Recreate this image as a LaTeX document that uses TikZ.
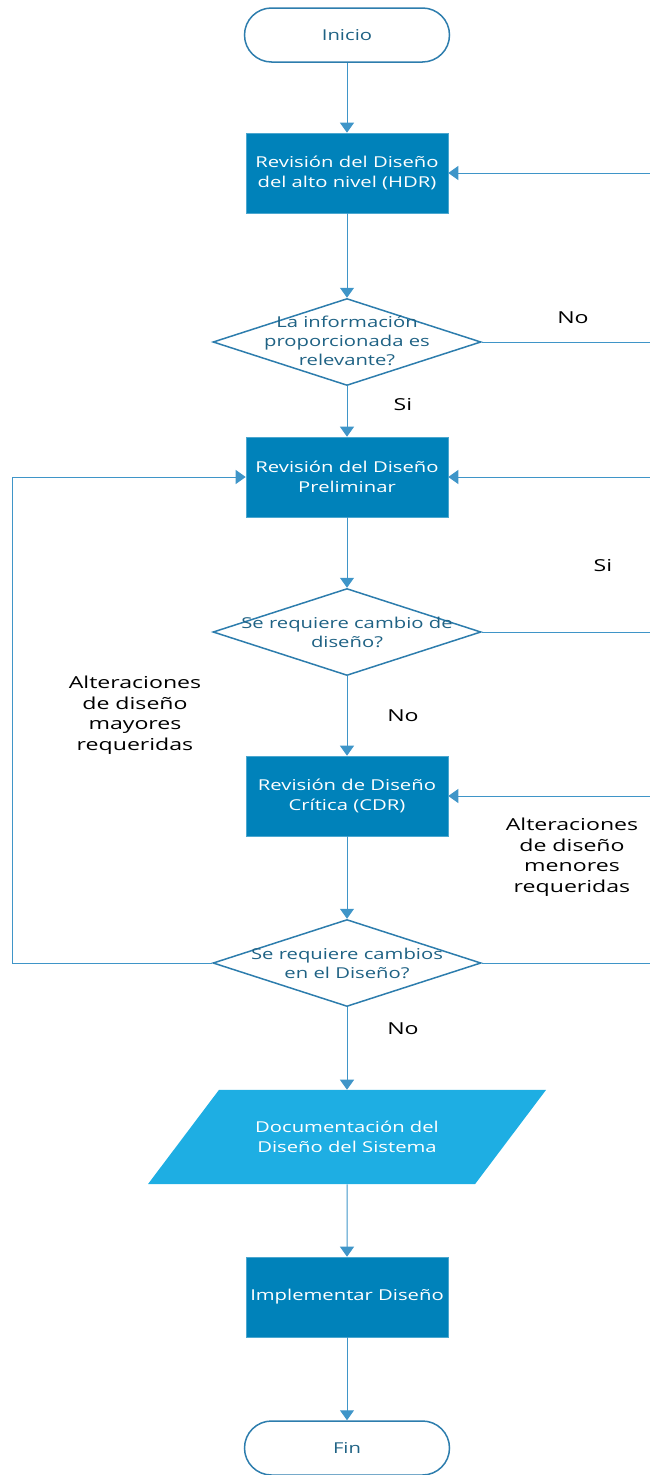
\documentclass[tikz,border=0pt]{standalone}
\usepackage{fontspec}
\setmainfont{Open Sans}
\newfontfamily\widefont[FakeStretch=1.35]{Open Sans}
\newfontfamily\notefont[FakeStretch=1.4]{Open Sans}
\usetikzlibrary{shapes.geometric,arrows.meta}
\definecolor{boxblue}{HTML}{0082BA}
\definecolor{docblue}{HTML}{1EAEE3}
\definecolor{lineblue}{HTML}{3F95C8}
\definecolor{edgeblue}{HTML}{2D7DAD}
\definecolor{qtextcol}{HTML}{1F6284}

\begin{document}
\begin{tikzpicture}
[x=1pt,y=-1pt,>={Triangle[length=10pt,width=14pt]},
 line/.style={draw=lineblue,line width=1pt},
 terminal/.style={draw=edgeblue,line width=1.5pt,rounded corners=27pt,minimum width=205pt,minimum height=54pt,text=qtextcol,font=\widefont\fontsize{15}{17}\selectfont},
 process/.style={fill=boxblue,draw=boxblue!70!white,line width=0.6pt,minimum width=202pt,minimum height=80pt,align=center,text=white,font=\widefont\fontsize{15}{19.5}\selectfont},
 decision/.style={diamond,draw=edgeblue,line width=1.5pt,inner sep=0pt,minimum width=268pt,minimum height=87pt},
 qtext/.style={align=center,text=qtextcol,font=\widefont\fontsize{15}{19}\selectfont},
 data/.style={trapezium,trapezium left angle=53,trapezium right angle=127,trapezium stretches body,fill=docblue,inner ysep=31.5pt,minimum width=398pt,align=center,text=white,font=\widefont\fontsize{15}{19.5}\selectfont},
 note/.style={align=center,text=black,font=\notefont\fontsize{16.5}{20.5}\selectfont},]

\useasboundingbox (0,0) rectangle (650,1475);

%Loop lines
\coordinate (R) at (658,0);
\coordinate (L) at (12,0);

%Flow nodes
\node (inicio) at (347,35)[terminal] {Inicio};
\node (hdr) at (347,173)[process] {Revisión del Diseño\\del alto nivel (HDR)};
\node (info) at (347,342)[decision] {};
\node (infotxt) at (347,341)[qtext] {La información\\proporcionada es\\relevante?};
\node (pdr) at (347,477)[process] {Revisión del Diseño\\Preliminar};
\node (cambio) at (347,632)[decision] {};
\node (cambiotxt) at (347,632)[qtext] {Se requiere cambio de\\diseño?};
\node (cdr) at (347,796)[process] {Revisión de Diseño\\Crítica (CDR)};
\node (cambios) at (347,963)[decision] {};
\node (cambiostxt) at (347,963)[qtext] {Se requiere cambios\\en el Diseño?};
\node (doc) at (347,1137)[data] {Documentación del\\Diseño del Sistema};
\node (impl) at (347,1297)[process] {Implementar Diseño};
\node (fin) at (347,1448)[terminal] {Fin};

%Labels
\node (no1) at (573,318)[note] {No};
\node (si1) at (403,405)[note] {Si};
\node (si2) at (603,566)[note] {Si};
\node (no2) at (403,716)[note] {No};
\node (mayores) at (135,715)[note] {Alteraciones\\de diseño\\mayores\\requeridas};
\node (menores) at (572,857)[note] {Alteraciones\\de diseño\\menores\\requeridas};
\node (no3) at (403,1029)[note] {No};

%Connectors
\draw[line,->] (inicio) -- (hdr);
\draw[line,->] (hdr) -- (info);
\draw[line,->] (info) -- (pdr);
\draw[line,->] (pdr) -- (cambio);
\draw[line,->] (cambio) -- (cdr);
\draw[line,->] (cdr) -- (cambios);
\draw[line,->] (cambios) -- (doc);
\draw[line,->] (doc) -- (impl);
\draw[line,->] (impl) -- (fin);

\draw[line,->] (info.east) -- (info.east -| R) |- (hdr.east);
\draw[line,->] (cambio.east) -- (cambio.east -| R) |- (pdr.east);
\draw[line,->] (cambios.east) -- (cambios.east -| R) |- (cdr.east);
\draw[line,->] (cambios.west) -- (cambios.west -| L) |- (pdr.west);

\end{tikzpicture}
\end{document}
